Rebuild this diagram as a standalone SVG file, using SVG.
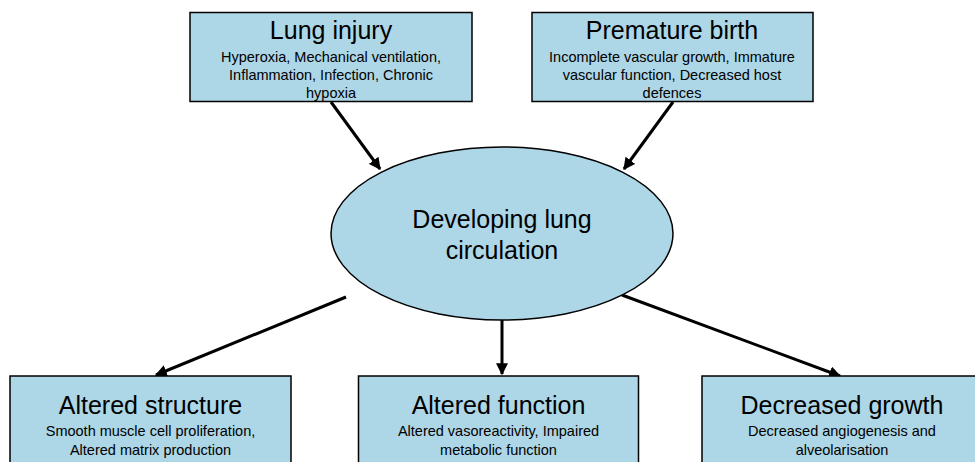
<svg xmlns="http://www.w3.org/2000/svg" width="975" height="462" viewBox="0 0 975 462">
<defs>
<style>
.box{fill:#add6e6;stroke:#000;stroke-width:1.5}
.t{font-family:"Liberation Sans",Arial,sans-serif;fill:#000;text-anchor:middle}
.h{font-size:25px}
.s{font-size:14.5px}
.e{font-size:25px}
.c{stroke:#000;stroke-width:3;fill:none;marker-end:url(#ah)}
</style>
<marker id="ah" viewBox="0 0 10 10" refX="9" refY="5" markerWidth="4" markerHeight="4" orient="auto" markerUnits="strokeWidth">
<path d="M0,0 L10,5 L0,10 z" fill="#000"/>
</marker>
</defs>
<rect width="975" height="462" fill="#fff"/>
<g id="connectors">
<line class="c" x1="331" y1="102" x2="380" y2="169"/>
<line class="c" x1="673" y1="102" x2="624" y2="169"/>
<line class="c" x1="346" y1="297" x2="156" y2="375"/>
<line class="c" x1="502" y1="320" x2="502" y2="374"/>
<line class="c" x1="622" y1="295" x2="840" y2="376"/>
</g>
<g id="lung-injury">
<rect class="box" x="190" y="12.5" width="282" height="89"/>
<text class="t h" x="331" y="39">Lung injury</text>
<text class="t s" x="331" y="62">Hyperoxia, Mechanical ventilation,</text>
<text class="t s" x="331" y="80">Inflammation, Infection, Chronic</text>
<text class="t s" x="331" y="98">hypoxia</text>
</g>
<g id="premature-birth">
<rect class="box" x="532" y="12.5" width="281" height="89"/>
<text class="t h" x="672" y="39">Premature birth</text>
<text class="t s" x="672" y="62">Incomplete vascular growth, Immature</text>
<text class="t s" x="672" y="80">vascular function, Decreased host</text>
<text class="t s" x="672" y="98">defences</text>
</g>
<g id="developing">
<ellipse class="box" cx="502" cy="233.5" rx="171" ry="86.5"/>
<text class="t e" x="502" y="228">Developing lung</text>
<text class="t e" x="502" y="259">circulation</text>
</g>
<g id="altered-structure">
<rect class="box" x="10" y="376" width="281" height="100"/>
<text class="t h" x="150.5" y="414">Altered structure</text>
<text class="t s" x="150.5" y="436">Smooth muscle cell proliferation,</text>
<text class="t s" x="150.5" y="455">Altered matrix production</text>
</g>
<g id="altered-function">
<rect class="box" x="358.5" y="376" width="280" height="100"/>
<text class="t h" x="498.5" y="414">Altered function</text>
<text class="t s" x="498.5" y="436">Altered vasoreactivity, Impaired</text>
<text class="t s" x="498.5" y="455">metabolic function</text>
</g>
<g id="decreased-growth">
<rect class="box" x="702" y="376" width="281" height="100"/>
<text class="t h" x="842" y="414">Decreased growth</text>
<text class="t s" x="842" y="436">Decreased angiogenesis and</text>
<text class="t s" x="842" y="455">alveolarisation</text>
</g>
</svg>
